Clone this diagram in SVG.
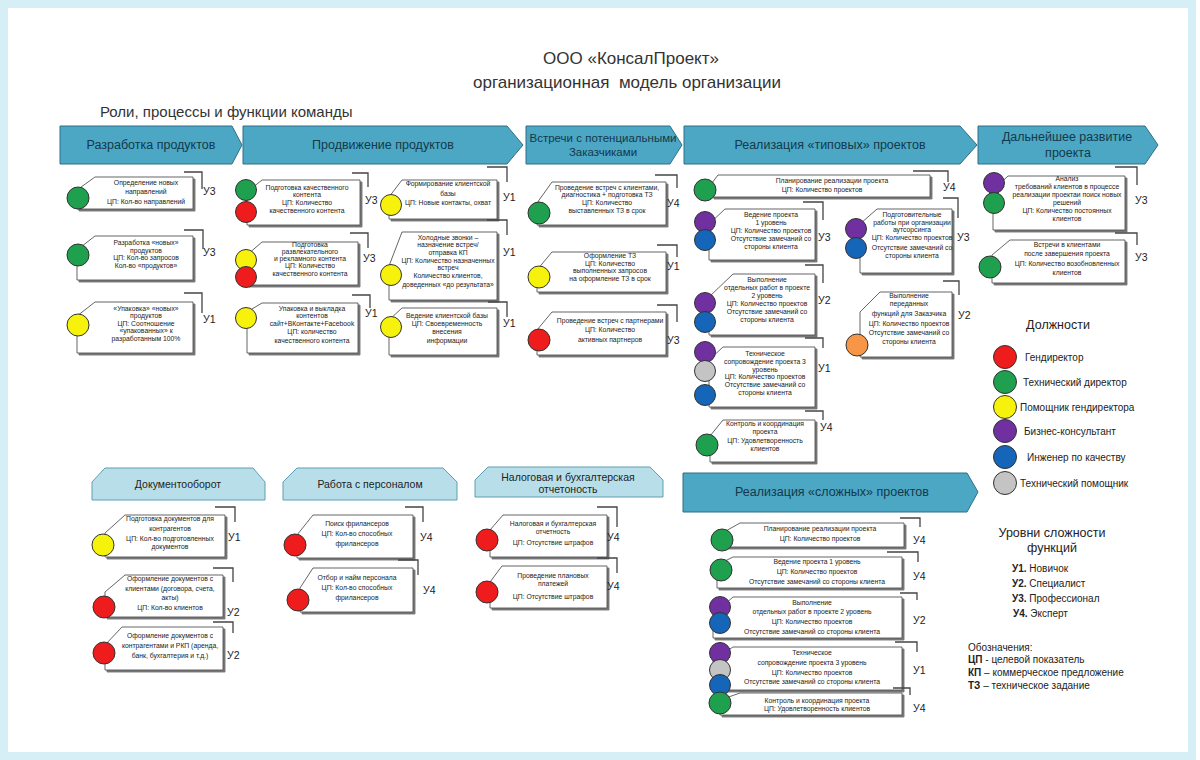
<svg xmlns="http://www.w3.org/2000/svg" width="1200" height="760" viewBox="0 0 1200 760">
<defs>
<filter id="ds" x="-10%" y="-10%" width="130%" height="140%">
<feDropShadow dx="2" dy="2" stdDeviation="0.7" flood-color="#555" flood-opacity="0.8"/>
</filter>
<style>
.card{fill:#fff;stroke:#555;stroke-width:0.9;filter:url(#ds)}
.hd{fill:#4ba7c4;stroke:#2e6f86;stroke-width:1}
.hb{fill:#b8dfe9;stroke:#5f9fb3;stroke-width:1}
.ht{font-family:"Liberation Sans",Arial,sans-serif;font-size:12.5px;fill:#15384a;text-anchor:middle}
.hbt{font-family:"Liberation Sans",Arial,sans-serif;font-size:10.5px;fill:#222;text-anchor:middle}
.t{font-family:"Liberation Sans",Arial,sans-serif;font-size:6.8px;fill:#222;text-anchor:middle}
.lv{font-family:"Liberation Sans",Arial,sans-serif;font-size:10.5px;fill:#222}
.br{fill:none;stroke:#444;stroke-width:1.3}
.lg{font-family:"Liberation Sans",Arial,sans-serif;font-size:10px;fill:#222}
.ti{font-family:"Liberation Sans",Arial,sans-serif;font-size:17px;fill:#333;text-anchor:middle}
circle{stroke:#333;stroke-width:1}
.r{fill:#ee1c1c}.g{fill:#1ea04e}.y{fill:#f7f20c}.p{fill:#7030a0}.b{fill:#1565b8}.s{fill:#c4c4c4}.o{fill:#f79646}
</style>
</defs>
<rect x="0" y="0" width="1200" height="760" fill="#fff"/>
<rect x="4" y="4" width="1188" height="752" fill="none" stroke="#d6eef5" stroke-width="8"/>

<g id="title">
<text class="ti" x="631" y="64">ООО «КонсалПроект»</text>
<text class="ti" x="627" y="88">организационная&#160; модель организации</text>
<text x="100" y="117" font-family="Liberation Sans, Arial, sans-serif" font-size="15" fill="#333">Роли, процессы и функции команды</text>
</g>

<g id="h-dev"><polygon class="hd" points="60,126 232,126 242,145 232,164 60,164"/><text class="ht" x="151" y="149">Разработка продуктов</text></g>
<g id="h-promo"><polygon class="hd" points="243,126 507,126 523,145 507,164 243,164"/><text class="ht" x="383" y="149">Продвижение продуктов</text></g>
<g id="h-meet"><polygon class="hd" points="526,126 670,126 682,145 670,164 526,164"/><text class="ht" x="603" y="142" style="font-size:11.5px">Встречи с потенциальными</text><text class="ht" x="603" y="156" style="font-size:11.5px">Заказчиками</text></g>
<g id="h-typ"><polygon class="hd" points="684,126 960,126 977,145 960,164 684,164"/><text class="ht" x="830" y="149">Реализация «типовых» проектов</text></g>
<g id="h-dev2"><polygon class="hd" points="978,126 1145,126 1158,145 1145,164 978,164"/><text class="ht" x="1067" y="141">Дальнейшее развитие</text><text class="ht" x="1068" y="157">проекта</text></g>

<!-- Разработка продуктов -->
<g id="n-dev1">
<polygon class="card" points="95,177 193,177 193,209 77,209 77,190"/>
<circle class="g" cx="78" cy="198" r="11"/>
<text class="t"><tspan x="146" y="184.5">Определение новых</tspan><tspan x="146" y="193.5">направлений</tspan><tspan x="146" y="203.5">ЦП: Кол-во направлений</tspan></text>
<path class="br" d="M184,172 H202 V189"/><text class="lv" x="203" y="195">У3</text>
</g>
<g id="n-dev2">
<polygon class="card" points="95,236 193,236 193,280 77,280 77,250"/>
<circle class="g" cx="78" cy="255" r="11"/>
<text class="t"><tspan x="146" y="245">Разработка «новых»</tspan><tspan x="146" y="252.5">продуктов</tspan><tspan x="146" y="260">ЦП: Кол-во запросов</tspan><tspan x="146" y="267.5">Кол-во «продуктов»</tspan></text>
<path class="br" d="M184,230 H203 V249"/><text class="lv" x="203" y="256">У3</text>
</g>
<g id="n-dev3">
<polygon class="card" points="95,302 193,302 193,353 77,353 77,316"/>
<circle class="y" cx="78" cy="325" r="11"/>
<text class="t"><tspan x="146" y="310.5">«Упаковка» «новых»</tspan><tspan x="146" y="318">продуктов</tspan><tspan x="146" y="325.5">ЦП: Соотношение</tspan><tspan x="146" y="333">«упакованных» к</tspan><tspan x="146" y="341">разработанным 100%</tspan></text>
<path class="br" d="M184,293 H202 V313"/><text class="lv" x="203" y="323">У1</text>
</g>

<!-- Продвижение продуктов -->
<g id="n-promo1">
<polygon class="card" points="262,180 360,180 360,225 247,225 247,192"/>
<circle class="g" cx="246" cy="190" r="10.5"/>
<circle class="r" cx="246" cy="212" r="10.5"/>
<text class="t"><tspan x="307" y="189.5">Подготовка качественного</tspan><tspan x="307" y="196.5">контента</tspan><tspan x="307" y="204.5">ЦП: Количество</tspan><tspan x="307" y="212.5">качественного контента</tspan></text>
<path class="br" d="M352,173 H368 V187"/><text class="lv" x="365" y="204">У3</text>
</g>
<g id="n-promo2">
<polygon class="card" points="262,242 358,242 358,285 247,285 247,255"/>
<circle class="y" cx="246" cy="260" r="10.5"/>
<circle class="r" cx="246" cy="277" r="10.5"/>
<text class="t"><tspan x="310" y="246.5">Подготовка</tspan><tspan x="310" y="253.5">развлекательного</tspan><tspan x="310" y="260.5">и рекламного контента</tspan><tspan x="310" y="267.5">ЦП: Количество</tspan><tspan x="310" y="275.5">качественного контента</tspan></text>
<path class="br" d="M350,233 H368 V248"/><text class="lv" x="363" y="262">У3</text>
</g>
<g id="n-promo3">
<polygon class="card" points="262,303 358,303 358,353 247,353 247,312"/>
<circle class="y" cx="246" cy="318" r="10.5"/>
<text class="t"><tspan x="312" y="310.5">Упаковка и выкладка</tspan><tspan x="312" y="317.5">контентов</tspan><tspan x="312" y="325.5">сайт+ВКонтакте+Facebook</tspan><tspan x="312" y="333.5">ЦП: количество</tspan><tspan x="312" y="342.5">качественного контента</tspan></text>
<path class="br" d="M352,295 H370 V308"/><text class="lv" x="365" y="317">У1</text>
</g>
<g id="n-promo4">
<polygon class="card" points="402,180 497,180 497,219 389,219 389,197"/>
<circle class="y" cx="391" cy="205" r="10.5"/>
<text class="t"><tspan x="448" y="185.5">Формирование клиентской</tspan><tspan x="448" y="195.5">базы</tspan><tspan x="448" y="204.5">ЦП: Новые контакты, охват</tspan></text>
<path class="br" d="M487,167 H507 V182"/><text class="lv" x="503" y="201">У1</text>
</g>
<g id="n-promo5">
<polygon class="card" points="402,232 497,232 497,300 389,300 389,266"/>
<circle class="y" cx="391" cy="275" r="10.5"/>
<text class="t"><tspan x="448" y="239.5">Холодные звонки –</tspan><tspan x="448" y="247">назначение встреч/</tspan><tspan x="448" y="254.5">отправка КП</tspan><tspan x="448" y="262.5">ЦП: Количество назначенных</tspan><tspan x="448" y="270">встреч</tspan><tspan x="448" y="278">Количество клиентов,</tspan><tspan x="448" y="287">доведенных «до результата»</tspan></text>
<path class="br" d="M487,220 H507 V235"/><text class="lv" x="503" y="256">У1</text>
</g>
<g id="n-promo6">
<polygon class="card" points="402,308 497,308 497,355 389,355 389,320"/>
<circle class="y" cx="391" cy="327" r="10.5"/>
<text class="t"><tspan x="447" y="317.5">Ведение клиентской базы</tspan><tspan x="447" y="325.5">ЦП: Своевременность</tspan><tspan x="447" y="333.5">внесения</tspan><tspan x="447" y="342.5">информации</tspan></text>
<path class="br" d="M488,302 H507 V317"/><text class="lv" x="503" y="327">У1</text>
</g>

<!-- Встречи -->
<g id="n-meet1">
<polygon class="card" points="552,182 666,182 666,225 537,225 537,203"/>
<circle class="g" cx="539" cy="213" r="11"/>
<text class="t"><tspan x="607" y="189.5">Проведение встреч с клиентами,</tspan><tspan x="607" y="196.5">диагностика + подготовка ТЗ</tspan><tspan x="607" y="204.5">ЦП: Количество</tspan><tspan x="607" y="212.5">выставленных ТЗ в срок</tspan></text>
<path class="br" d="M655,175 H677 V188"/><text class="lv" x="667" y="207">У4</text>
</g>
<g id="n-meet2">
<polygon class="card" points="552,252 666,252 666,292 537,292 537,270"/>
<circle class="y" cx="539" cy="277" r="11"/>
<text class="t"><tspan x="610" y="257.5">Оформление ТЗ</tspan><tspan x="610" y="265.5">ЦП: Количество</tspan><tspan x="610" y="272.5">выполненных запросов</tspan><tspan x="610" y="280.5">на оформление ТЗ в срок</tspan></text>
<path class="br" d="M657,245 H677 V257"/><text class="lv" x="667" y="270">У1</text>
</g>
<g id="n-meet3">
<polygon class="card" points="552,312 666,312 666,355 537,355 537,330"/>
<circle class="r" cx="539" cy="340" r="11"/>
<text class="t"><tspan x="610" y="322.5">Проведение встреч с партнерами</tspan><tspan x="610" y="331.5">ЦП: Количество</tspan><tspan x="610" y="341.5">активных партнеров</tspan></text>
<path class="br" d="M657,305 H677 V322"/><text class="lv" x="667" y="344">У3</text>
</g>

<!-- Реализация типовых -->
<g id="n-typ1">
<polygon class="card" points="718,175 930,175 930,197 712,197 712,183"/>
<circle class="g" cx="705" cy="190" r="11"/>
<text class="t"><tspan x="832" y="182.5">Планирование реализации проекта</tspan><tspan x="822" y="191.5">ЦП: Количество проектов</tspan></text>
<path class="br" d="M913,171 H948 V182"/><text class="lv" x="943" y="191">У4</text>
</g>
<g id="n-typ2">
<polygon class="card" points="725,209 815,209 815,260 709,260 709,224"/>
<circle class="p" cx="705" cy="222" r="10.5"/>
<circle class="b" cx="705" cy="240" r="10.5"/>
<text class="t"><tspan x="771" y="216.5">Ведение проекта</tspan><tspan x="771" y="224.5">1 уровень</tspan><tspan x="771" y="232.5">ЦП: Количество проектов</tspan><tspan x="771" y="240.5">Отсутствие замечаний со</tspan><tspan x="771" y="249">стороны клиента</tspan></text>
<path class="br" d="M803,202 H823 V220"/><text class="lv" x="818" y="241">У3</text>
</g>
<g id="n-typ3">
<polygon class="card" points="877,209 952,209 952,273 860,273 860,224"/>
<circle class="p" cx="856" cy="229" r="10.5"/>
<circle class="b" cx="856" cy="248" r="10.5"/>
<text class="t"><tspan x="912" y="216.5">Подготовительные</tspan><tspan x="912" y="224.5">работы при организации</tspan><tspan x="912" y="232">аутсорсинга</tspan><tspan x="912" y="240">ЦП: Количество проектов</tspan><tspan x="912" y="249.5">Отсутствие замечаний со</tspan><tspan x="912" y="258">стороны клиента</tspan></text>
<path class="br" d="M943,198 H958 V218"/><text class="lv" x="957" y="241">У3</text>
</g>
<g id="n-typ4">
<polygon class="card" points="733,274 815,274 815,335 709,335 709,297"/>
<circle class="p" cx="705" cy="303" r="10.5"/>
<circle class="b" cx="705" cy="322" r="10.5"/>
<text class="t"><tspan x="767" y="281.5">Выполнение</tspan><tspan x="767" y="289.5">отдельных работ в проекте</tspan><tspan x="767" y="297.5">2 уровень</tspan><tspan x="767" y="305.5">ЦП: Количество проектов</tspan><tspan x="767" y="313.5">Отсутствие замечаний со</tspan><tspan x="767" y="321.5">стороны клиента</tspan></text>
<path class="br" d="M805,265 H823 V283"/><text class="lv" x="818" y="304">У2</text>
</g>
<g id="n-typ5">
<polygon class="card" points="723,347 815,347 815,407 709,407 709,360"/>
<circle class="p" cx="705" cy="352" r="10.5"/>
<circle class="s" cx="705" cy="371" r="10.5"/>
<circle class="b" cx="705" cy="395" r="10.5"/>
<text class="t"><tspan x="765" y="355.5">Техническое</tspan><tspan x="765" y="363.5">сопровождение проекта 3</tspan><tspan x="765" y="371.5">уровень</tspan><tspan x="765" y="378.5">ЦП: Количество проектов</tspan><tspan x="765" y="386.5">Отсутствие замечаний со</tspan><tspan x="765" y="395">стороны клиента</tspan></text>
<path class="br" d="M805,338 H823 V348"/><text class="lv" x="818" y="372">У1</text>
</g>
<g id="n-typ6">
<polygon class="card" points="723,420 815,420 815,462 710,462 710,436"/>
<circle class="g" cx="707" cy="445" r="11"/>
<text class="t"><tspan x="765" y="425.5">Контроль и координация</tspan><tspan x="765" y="433.5">проекта</tspan><tspan x="765" y="442.5">ЦП: Удовлетворенность</tspan><tspan x="765" y="450.5">клиентов</tspan></text>
<path class="br" d="M805,411 H823 V420"/><text class="lv" x="820" y="431">У4</text>
</g>
<g id="n-typ7">
<polygon class="card" points="880,292 952,292 952,357 860,357 860,312"/>
<circle class="o" cx="857" cy="345" r="11"/>
<text class="t"><tspan x="909" y="297.5">Выполнение</tspan><tspan x="909" y="305.5">переданных</tspan><tspan x="909" y="316">функций для Заказчика</tspan><tspan x="909" y="325.5">ЦП: Количество проектов</tspan><tspan x="909" y="335">Отсутствие замечаний со</tspan><tspan x="909" y="344">стороны клиента</tspan></text>
<path class="br" d="M943,281 H959 V295"/><text class="lv" x="958" y="319">У2</text>
</g>

<!-- Дальнейшее развитие -->
<g id="n-fur1">
<polygon class="card" points="1008,176 1125,176 1125,230 993,230 993,190"/>
<circle class="p" cx="994" cy="183" r="10.5"/>
<circle class="g" cx="994" cy="203" r="10.5"/>
<text class="t"><tspan x="1067" y="180.5">Анализ</tspan><tspan x="1067" y="188.5">требований клиентов в процессе</tspan><tspan x="1067" y="196.5">реализации проектаи поиск новых</tspan><tspan x="1067" y="204.5">решений</tspan><tspan x="1067" y="212.5">ЦП: Количество постоянных</tspan><tspan x="1067" y="220.5">клиентов</tspan></text>
<path class="br" d="M1115,167 H1137 V185"/><text class="lv" x="1135" y="204">У3</text>
</g>
<g id="n-fur2">
<polygon class="card" points="1010,240 1125,240 1125,283 992,283 992,255"/>
<circle class="g" cx="990" cy="267" r="11"/>
<text class="t"><tspan x="1067" y="246.5">Встречи в клиентами</tspan><tspan x="1067" y="255.5">после завершения проекта</tspan><tspan x="1067" y="265.5">ЦП: Количество возобновленных</tspan><tspan x="1067" y="275">клиентов</tspan></text>
<path class="br" d="M1115,233 H1137 V245"/><text class="lv" x="1135" y="261">У3</text>
</g>

<!-- Должности -->
<g id="legend-roles">
<text x="1058" y="329" font-family="Liberation Sans, Arial, sans-serif" font-size="12.5" fill="#222" text-anchor="middle">Должности</text>
<circle class="r" cx="1005" cy="357" r="11.5"/><text class="lg" x="1025" y="360.5">Гендиректор</text>
<circle class="g" cx="1005" cy="382" r="11.5"/><text class="lg" x="1023" y="385.5">Технический директор</text>
<circle class="y" cx="1005" cy="407" r="11.5"/><text class="lg" x="1020" y="410.5">Помощник гендиректора</text>
<circle class="p" cx="1005" cy="431" r="11.5"/><text class="lg" x="1024" y="434.5">Бизнес-консультант</text>
<circle class="b" cx="1005" cy="457" r="11.5"/><text class="lg" x="1027" y="460.5">Инженер по качеству</text>
<circle class="s" cx="1005" cy="483" r="11.5"/><text class="lg" x="1020" y="486.5">Технический помощник</text>
</g>

<!-- Bottom headers -->
<g id="h-doc"><polygon class="hb" points="105,468 253,468 265,482 265,500 92,500 92,482"/><text class="hbt" x="178" y="488">Документооборот</text></g>
<g id="h-hr"><polygon class="hb" points="297,468 443,468 457,482 457,500 283,500 283,482"/><text class="hbt" x="370" y="488">Работа с персоналом</text></g>
<g id="h-tax"><polygon class="hb" points="488,467 650,467 663,480 663,497 475,497 475,480"/><text class="hbt" x="568" y="481">Налоговая и бухгалтерская</text><text class="hbt" x="568" y="493">отчетоность</text></g>

<g id="n-doc1">
<polygon class="card" points="125,515 225,515 225,557 105,557 105,533"/>
<circle class="y" cx="103" cy="545" r="11"/>
<text class="t"><tspan x="170" y="520.5">Подготовка документов для</tspan><tspan x="170" y="530.5">контрагентов</tspan><tspan x="170" y="540.5">ЦП: Кол-во подготовленных</tspan><tspan x="170" y="548.5">документов</tspan></text>
<path class="br" d="M215,507 H235 V522"/><text class="lv" x="228" y="541">У1</text>
</g>
<g id="n-doc2">
<polygon class="card" points="125,575 223,575 223,617 105,617 105,592"/>
<circle class="r" cx="104" cy="607" r="11"/>
<text class="t"><tspan x="170" y="580.5">Оформление документов с</tspan><tspan x="170" y="590.5">клиентами (договора, счета,</tspan><tspan x="170" y="599.5">акты)</tspan><tspan x="170" y="609.5">ЦП: Кол-во клиентов</tspan></text>
<path class="br" d="M213,568 H233 V582"/><text class="lv" x="227" y="616">У2</text>
</g>
<g id="n-doc3">
<polygon class="card" points="122,627 223,627 223,670 105,670 105,645"/>
<circle class="r" cx="104" cy="653" r="11"/>
<text class="t"><tspan x="170" y="637.5">Оформление документов с</tspan><tspan x="170" y="647.5">контрагентами и РКП (аренда,</tspan><tspan x="170" y="657.5">банк, бухгалтерия и т.д.)</tspan></text>
<path class="br" d="M213,622 H233 V633"/><text class="lv" x="227" y="659">У2</text>
</g>
<g id="n-hr1">
<polygon class="card" points="313,515 413,515 413,558 297,558 297,535"/>
<circle class="r" cx="295" cy="545" r="11"/>
<text class="t"><tspan x="357" y="525.5">Поиск фрилансеров</tspan><tspan x="357" y="535.5">ЦП: Кол-во способных</tspan><tspan x="357" y="545.5">фрилансеров</tspan></text>
<path class="br" d="M405,507 H423 V522"/><text class="lv" x="420" y="541">У4</text>
</g>
<g id="n-hr2">
<polygon class="card" points="313,568 413,568 413,612 300,612 300,588"/>
<circle class="r" cx="298" cy="600" r="11"/>
<text class="t"><tspan x="357" y="579.5">Отбор и найм персонала</tspan><tspan x="357" y="589.5">ЦП: Кол-во способных</tspan><tspan x="357" y="599.5">фрилансеров</tspan></text>
<path class="br" d="M398,560 H418 V575"/><text class="lv" x="423" y="594">У4</text>
</g>
<g id="n-tax1">
<polygon class="card" points="503,515 607,515 607,557 490,557 490,530"/>
<circle class="r" cx="487" cy="540" r="11"/>
<text class="t"><tspan x="553" y="525.5">Налоговая и бухгалтерская</tspan><tspan x="553" y="533.5">отчетность</tspan><tspan x="553" y="544.5">ЦП: Отсутствие штрафов</tspan></text>
<path class="br" d="M597,507 H617 V527"/><text class="lv" x="607" y="541">У4</text>
</g>
<g id="n-tax2">
<polygon class="card" points="502,566 607,566 607,608 490,608 490,582"/>
<circle class="r" cx="487" cy="592" r="11"/>
<text class="t"><tspan x="553" y="577.5">Проведение плановых</tspan><tspan x="553" y="585.5">платежей</tspan><tspan x="553" y="598.5">ЦП: Отсутствие штрафов</tspan></text>
<path class="br" d="M597,558 H617 V573"/><text class="lv" x="607" y="590">У4</text>
</g>

<!-- Реализация сложных -->
<g id="h-comp"><polygon class="hd" points="683,473 967,473 978,492 967,512 683,512"/><text class="ht" x="832" y="496">Реализация «сложных» проектов</text></g>
<g id="n-comp1">
<polygon class="card" points="740,523 904,523 904,547 724,547 724,532"/>
<circle class="g" cx="722" cy="540" r="11"/>
<text class="t"><tspan x="820" y="530.5">Планирование реализации проекта</tspan><tspan x="820" y="540.5">ЦП: Количество проектов</tspan></text>
<path class="br" d="M900,518 H920 V527"/><text class="lv" x="913" y="544">У4</text>
</g>
<g id="n-comp2">
<polygon class="card" points="733,557 902,557 902,588 717,588 717,565"/>
<circle class="g" cx="721" cy="570" r="11"/>
<text class="t"><tspan x="817" y="563.5">Ведение проекта 1 уровень</tspan><tspan x="817" y="573.5">ЦП: Количество проектов</tspan><tspan x="817" y="584">Отсутствие замечаний со стороны клиента</tspan></text>
<path class="br" d="M887,552 H918 V562"/><text class="lv" x="913" y="580">У4</text>
</g>
<g id="n-comp3">
<polygon class="card" points="733,597 902,597 902,638 713,638 713,615"/>
<circle class="p" cx="720" cy="607" r="10.5"/>
<circle class="b" cx="720" cy="623" r="10.5"/>
<text class="t"><tspan x="812" y="604.5">Выполнение</tspan><tspan x="812" y="613.5">отдельных работ в проекте 2 уровень</tspan><tspan x="812" y="623.5">ЦП: Количество проектов</tspan><tspan x="812" y="633.5">Отсутствие замечаний со стороны клиента</tspan></text>
<path class="br" d="M900,593 H917 V600"/><text class="lv" x="913" y="624">У2</text>
</g>
<g id="n-comp4">
<polygon class="card" points="733,647 902,647 902,690 713,690 713,660"/>
<circle class="p" cx="720" cy="653" r="10.5"/>
<circle class="s" cx="720" cy="670" r="10.5"/>
<circle class="b" cx="720" cy="685" r="10.5"/>
<text class="t"><tspan x="812" y="654.5">Техническое</tspan><tspan x="812" y="664.5">сопровождение проекта 3 уровень</tspan><tspan x="812" y="674.5">ЦП: Количество проектов</tspan><tspan x="812" y="683.5">Отсутствие замечаний со стороны клиента</tspan></text>
<path class="br" d="M895,642 H917 V652"/><text class="lv" x="913" y="674">У1</text>
</g>
<g id="n-comp5">
<polygon class="card" points="740,693 902,693 902,715 720,715 720,700"/>
<circle class="g" cx="720" cy="703" r="11"/>
<text class="t"><tspan x="817" y="702.5">Контроль и координация проекта</tspan><tspan x="817" y="710.5">ЦП: Удовлетворенность клиентов</tspan></text>
<path class="br" d="M893,688 H910 V695"/><text class="lv" x="913" y="712">У4</text>
</g>

<!-- Уровни сложности -->
<g id="legend-levels">
<text x="1052" y="537" font-family="Liberation Sans, Arial, sans-serif" font-size="12.5" fill="#222" text-anchor="middle">Уровни сложности</text>
<text x="1052" y="552" font-family="Liberation Sans, Arial, sans-serif" font-size="12.5" fill="#222" text-anchor="middle">функций</text>
<text class="lg" x="1012" y="571.5"><tspan font-weight="bold">У1.</tspan> Новичок</text>
<text class="lg" x="1012" y="587"><tspan font-weight="bold">У2.</tspan> Специалист</text>
<text class="lg" x="1012" y="602"><tspan font-weight="bold">У3.</tspan> Профессионал</text>
<text class="lg" x="1013" y="616.5"><tspan font-weight="bold">У4.</tspan> Эксперт</text>
<text class="lg" x="968" y="650.5">Обозначения:</text>
<text class="lg" x="968" y="662.5"><tspan font-weight="bold">ЦП</tspan> - целевой показатель</text>
<text class="lg" x="968" y="675.5"><tspan font-weight="bold">КП</tspan> – коммерческое предложение</text>
<text class="lg" x="968" y="688.5"><tspan font-weight="bold">ТЗ</tspan> – техническое задание</text>
</g>
<g id="connectors"></g>
</svg>
